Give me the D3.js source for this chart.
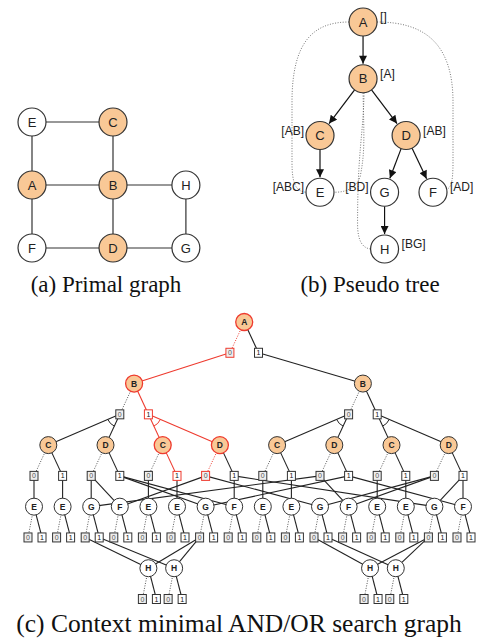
<!DOCTYPE html>
<html><head><meta charset="utf-8">
<script src="https://cdn.jsdelivr.net/npm/d3@7"></script>
<style>body{margin:0;background:#fff}svg{display:block}</style>
</head><body>
<script>
// ================= DATA =================
// (a) primal graph
const primalNodes  = ["E","C","A","B","H","F","D","G"];
const primalCol    = [0, 1, 0, 1, 1.9, 0, 1, 1.9];
const primalRow    = [0, 0, 1, 1, 1, 2, 2, 2];
const primalShaded = ["C","A","B","D"];
const primalEdges  = [["E","C"],["E","A"],["A","B"],["A","F"],["C","B"],["B","H"],["B","D"],["H","G"],["F","D"],["D","G"]];

// (b) pseudo tree
const treeNodes   = ["A","B","C","D","E","G","F","H"];
const treeSlot    = [0, 0, -2, 2, -2, 1, 3.25, 1];
const treeDepth   = [0, 1, 2, 2, 3, 3, 3, 4];
const treeShaded  = ["A","B","C","D"];
const treeContext = ["[]","[A]","[AB]","[AB]","[ABC]","[BD]","[AD]","[BG]"];
const treeCtxSide = ["right","right","left","right","left","left","right","right"];
const treeArcs    = [["A","B"],["B","C"],["B","D"],["C","E"],["D","G"],["D","F"],["G","H"]];
const treeBackArcs = [["A","E"],["A","F"],["B","H"],["B","E"]];

// (c) context minimal AND/OR search graph
const rootLabel  = "A";
const rootSlot   = 7.35;
const bLabel     = "B";
const bSlots     = [3.5, 11.5];
const cdLabels   = ["C","D","C","D","C","D","C","D"];
const leafLabels = ["E","E","G","F","E","E","G","F","E","E","G","F","E","E","G","F"];
// D value boxes (in order) -> [G leaf slot, F leaf slot]
const dBoxTargets = [[2,3],[6,7],[10,3],[14,7],[2,11],[6,15],[10,11],[14,15]];
const hLabel  = "H";
const hSlots  = [4, 4.9, 11.75, 12.65];
// [G leaf slot, value, H index]
const gBoxToH = [[2,0,0],[2,1,1],[6,0,0],[6,0,1],[10,0,2],[10,1,3],[14,0,2],[14,0,3]];
const values  = ["0","1"];
// highlighted (red) assignment path: A=0, B=1, C=1, D=0
const redA = 0, redB = 1, redC = 1, redD = 0;

const captions = ["(a) Primal graph","(b) Pseudo tree","(c) Context minimal AND/OR search graph"];

// ================= DRAW =================
const W = 478, H = 644;
const SANS = "'Liberation Sans', Arial, Helvetica, sans-serif";
const SERIF = "'Liberation Serif', 'Times New Roman', serif";
const ORANGE = "#f9c896", RED = "#ee3a2e", INK = "#222";

const svg = d3.select("body").append("svg").attr("width", W).attr("height", H);

// ---------- (a) ----------
{
  const x = d3.scaleLinear([0, 1], [32, 113]);
  const y = d3.scaleLinear([0, 2], [122, 248]);
  const r = 14;
  const pos = {};
  primalNodes.forEach((n, i) => pos[n] = {x: x(primalCol[i]), y: y(primalRow[i])});
  const g = svg.append("g");
  g.selectAll("line").data(primalEdges).join("line")
    .attr("x1", d => pos[d[0]].x).attr("y1", d => pos[d[0]].y)
    .attr("x2", d => pos[d[1]].x).attr("y2", d => pos[d[1]].y)
    .attr("stroke", "#333").attr("stroke-width", 1.2);
  const nd = g.selectAll("g.n").data(primalNodes).join("g").attr("class", "n")
    .attr("transform", d => `translate(${pos[d].x},${pos[d].y})`);
  nd.append("circle").attr("r", r)
    .attr("fill", d => primalShaded.includes(d) ? ORANGE : "#fff")
    .attr("stroke", "#333").attr("stroke-width", 1.2);
  nd.append("text").text(d => d).attr("text-anchor", "middle").attr("dy", "0.36em")
    .attr("font-family", SANS).attr("font-size", 13).attr("fill", INK);
}

// ---------- (b) ----------
{
  const x = d3.scaleLinear([-2, 3.25], [320, 433]);
  const y = d3.scaleLinear([0, 4], [22, 249]);
  const r = 14;
  const pos = {};
  treeNodes.forEach((n, i) => pos[n] = {x: x(treeSlot[i]), y: y(treeDepth[i])});
  const g = svg.append("g");
  svg.append("defs").append("marker").attr("id", "arr")
    .attr("viewBox", "0 0 10 10").attr("refX", 10).attr("refY", 5)
    .attr("markerWidth", 9).attr("markerHeight", 8).attr("markerUnits", "userSpaceOnUse")
    .attr("orient", "auto")
    .append("path").attr("d", "M0,0L10,5L0,10Z").attr("fill", "#111");

  // dotted back arcs (routed around the tree)
  const path = d3.path;
  const back = [];
  {
    const A = pos.A, B = pos.B, E = pos.E, F = pos.F, Hh = pos.H;
    let p = path();
    p.moveTo(A.x - r, A.y);
    p.bezierCurveTo(A.x - 50, A.y, E.x - 28, A.y + 20, E.x - 28, A.y + 80);
    p.lineTo(E.x - 28, E.y - 30);
    p.bezierCurveTo(E.x - 28, E.y - 8, E.x - 24, E.y - 1, E.x - r, E.y);
    back.push(p.toString());
    p = path();
    p.moveTo(A.x + r, A.y);
    p.bezierCurveTo(A.x + 60, A.y, F.x + 20, A.y + 20, F.x + 20, A.y + 80);
    p.lineTo(F.x + 20, F.y - 30);
    p.bezierCurveTo(F.x + 20, F.y - 10, F.x + 18, F.y - 5, F.x + r, F.y - 3);
    back.push(p.toString());
    p = path();
    p.moveTo(B.x + 1, B.y + r);
    p.bezierCurveTo(B.x, B.y + 60, Hh.x - 27, Hh.y - 100, Hh.x - 27, Hh.y - 25);
    p.bezierCurveTo(Hh.x - 27, Hh.y - 8, Hh.x - 22, Hh.y - 1, Hh.x - r, Hh.y);
    back.push(p.toString());
    p = path();
    p.moveTo(B.x, B.y + r);
    p.bezierCurveTo(B.x + 1, B.y + 60, B.x + 2, E.y - 40, B.x - 3, E.y - 15);
    p.bezierCurveTo(B.x - 8, E.y - 3, E.x + 25, E.y, E.x + r, E.y);
    back.push(p.toString());
  }
  g.selectAll("path.back").data(back).join("path").attr("class", "back")
    .attr("d", d => d).attr("fill", "none").attr("stroke", "#666")
    .attr("stroke-width", 0.9).attr("stroke-dasharray", "1,1.6");

  g.selectAll("line.arc").data(treeArcs).join("line").attr("class", "arc")
    .each(function(d) {
      const a = pos[d[0]], b = pos[d[1]];
      const dx = b.x - a.x, dy = b.y - a.y, L = Math.hypot(dx, dy);
      d3.select(this)
        .attr("x1", a.x + dx / L * r).attr("y1", a.y + dy / L * r)
        .attr("x2", b.x - dx / L * (r + 1)).attr("y2", b.y - dy / L * (r + 1));
    })
    .attr("stroke", "#111").attr("stroke-width", 1.2).attr("marker-end", "url(#arr)");

  const nd = g.selectAll("g.n").data(treeNodes).join("g").attr("class", "n")
    .attr("transform", d => `translate(${pos[d].x},${pos[d].y})`);
  nd.append("circle").attr("r", r)
    .attr("fill", d => treeShaded.includes(d) ? ORANGE : "#fff")
    .attr("stroke", "#333").attr("stroke-width", 1.2);
  nd.append("text").text(d => d).attr("text-anchor", "middle").attr("dy", "0.36em")
    .attr("font-family", SANS).attr("font-size", 13).attr("fill", INK);
  nd.append("text").text((d, i) => treeContext[i])
    .attr("x", (d, i) => treeCtxSide[i] === "right" ? r + 3 : -r - 2)
    .attr("text-anchor", (d, i) => treeCtxSide[i] === "right" ? "start" : "end")
    .attr("dy", "0.0em").attr("y", -1)
    .attr("font-family", SANS).attr("font-size", 12).attr("fill", INK);
}

// ---------- (c) ----------
{
  const xS = d3.scaleLinear([0, 15], [34, 463]);
  const yL = d3.scaleLinear([0, 9], [322, 599]);
  const r = 8.5;
  const ors = [], ands = [], edges = [], arcs = [];
  const addOr = (label, slot, lvl, red, fill) => { const n = {label, x: xS(slot), y: yL(lvl), red, fill}; ors.push(n); return n; };
  const addAnd = (v, x, lvl, red) => { const n = {v, x, y: yL(lvl), red}; ands.push(n); return n; };
  const link = (a, b, dotted, red) => edges.push({a, b, dotted, red});

  const A = addOr(rootLabel, rootSlot, 0, true, ORANGE);
  const l1 = values.map((v, i) => { const bx = addAnd(v, xS(rootSlot - 0.5 + i), 1, i === redA); link(A, bx, i === 0, i === redA); return bx; });
  const Bs = bSlots.map((s, b) => { const n = addOr(bLabel, s, 2, b === redA, ORANGE); link(l1[b], n, false, b === redA); return n; });
  const cdNodes = [];
  const l3Boxes = [];
  Bs.forEach((B, b) => {
    values.forEach((v, i) => {
      const red = b === redA && i === redB;
      const bx = addAnd(v, xS(bSlots[b] - 0.5 + i), 3, red);
      link(B, bx, i === 0, red);
      const kids = [0, 1].map(c => {
        const j = b * 4 + i * 2 + c;
        const n = addOr(cdLabels[j], 2 * j + 0.5, 4, red, ORANGE);
        cdNodes[j] = n;
        link(bx, n, false, red);
        return n;
      });
      arcs.push({box: bx, c1: kids[0], c2: kids[1], red});
    });
  });
  cdNodes.forEach((n, j) => {
    values.forEach((v, u) => {
      const red = n.red && ((n.label === "C" && u === redC) || (n.label === "D" && u === redD));
      const bx = addAnd(v, xS(2 * j + u), 5, red);
      bx.slot = 2 * j + u; bx.parent = n.label;
      link(n, bx, u === 0, red);
      l3Boxes.push(bx);
    });
  });
  const leaves = leafLabels.map((l, i) => addOr(l, i, 6, false, "#fff"));
  let dIdx = 0;
  l3Boxes.forEach(bx => {
    if (bx.parent === "C") link(bx, leaves[bx.slot], false, false);
    else { dBoxTargets[dIdx].forEach(t => link(bx, leaves[t], false, false)); dIdx++; }
  });
  const boxOff = [-0.21, 0.28];
  const leafBoxes = {};
  leaves.forEach((n, i) => {
    values.forEach((v, u) => {
      const bx = addAnd(v, xS(i + boxOff[u]), 7, false);
      leafBoxes[i + "_" + u] = bx;
      link(n, bx, u === 0, false);
    });
  });
  const hs = hSlots.map(s => addOr(hLabel, s, 8, false, "#fff"));
  gBoxToH.forEach(([g, u, h]) => link(leafBoxes[g + "_" + u], hs[h], false, false));
  hSlots.forEach((s, h) => {
    values.forEach((v, u) => {
      const bx = addAnd(v, xS(s + boxOff[u]), 9, false);
      link(hs[h], bx, u === 0, false);
    });
  });

  const g = svg.append("g");
  g.selectAll("line").data(edges).join("line")
    .attr("x1", d => d.a.x).attr("y1", d => d.a.y).attr("x2", d => d.b.x).attr("y2", d => d.b.y)
    .attr("stroke", d => d.red ? RED : (d.dotted ? "#555" : "#222"))
    .attr("stroke-width", d => d.dotted ? 1 : 1.1)
    .attr("stroke-dasharray", d => d.dotted ? "1,1.5" : null);

  const AR = 13;
  g.selectAll("path.and").data(arcs).join("path").attr("class", "and")
    .attr("d", d => {
      const a1 = Math.atan2(d.c1.y - d.box.y, d.c1.x - d.box.x);
      const a2 = Math.atan2(d.c2.y - d.box.y, d.c2.x - d.box.x);
      const p = d3.path();
      p.moveTo(d.box.x + AR * Math.cos(a2), d.box.y + AR * Math.sin(a2));
      p.arc(d.box.x, d.box.y, AR, a2, a1, false);
      return p.toString();
    })
    .attr("fill", "none").attr("stroke", d => d.red ? RED : "#222").attr("stroke-width", 1);

  const on = g.selectAll("g.or").data(ors).join("g").attr("class", "or")
    .attr("transform", d => `translate(${d.x},${d.y})`);
  on.append("circle").attr("r", r).attr("fill", d => d.fill)
    .attr("stroke", d => d.red ? RED : "#333").attr("stroke-width", d => d.red ? 1.3 : 1);
  on.append("text").text(d => d.label).attr("text-anchor", "middle").attr("dy", "0.36em")
    .attr("font-family", SANS).attr("font-weight", "bold").attr("font-size", 8.5).attr("fill", INK);

  const an = g.selectAll("g.and").data(ands).join("g").attr("class", "and")
    .attr("transform", d => `translate(${d.x},${d.y})`);
  an.append("rect").attr("x", -4).attr("y", -4.5).attr("width", 8).attr("height", 9)
    .attr("fill", d => d.v === "0" ? "#eee" : "#fff")
    .attr("stroke", d => d.red ? RED : "#333").attr("stroke-width", 1);
  an.append("text").text(d => d.v).attr("text-anchor", "middle").attr("dy", "0.36em")
    .attr("font-family", SANS).attr("font-size", 7)
    .attr("fill", d => d.v === "0" ? "#555" : "#111");
}

// ---------- captions ----------
svg.selectAll("text.cap").data(captions).join("text").attr("class", "cap")
  .text(d => d)
  .attr("x", (d, i) => [106, 370, 239][i])
  .attr("y", (d, i) => [292, 292, 632][i])
  .attr("text-anchor", "middle").attr("font-family", SERIF)
  .attr("font-size", (d, i) => i < 2 ? 23 : 25.5).attr("fill", "#111");
</script>
</body></html>
